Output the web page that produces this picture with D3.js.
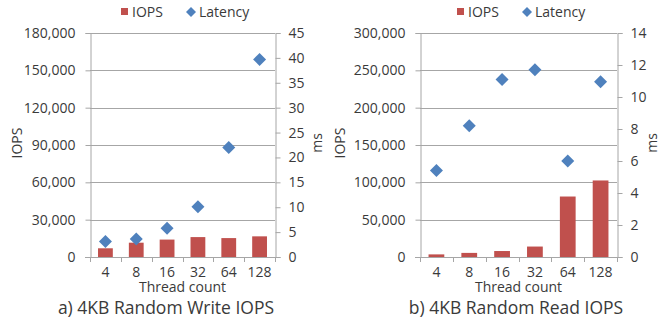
<!DOCTYPE html>
<html><head><meta charset="utf-8">
<script src="https://cdn.jsdelivr.net/npm/d3@7"></script>
<style>
body{margin:0;background:#fff;}
svg text{font-family:"Open Sans",sans-serif;fill:#3a3a3a;}
</style></head>
<body><svg id="c" width="660" height="321"></svg>
<script>
const threads = ["4","8","16","32","64","128"];
const writeIops = [7000, 11500, 14000, 16000, 15200, 16600];
const writeLatency = [3.1, 3.6, 5.8, 10.1, 22.0, 39.7];
const readIops = [3500, 5500, 8000, 14000, 81000, 102500];
const readLatency = [5.4, 8.2, 11.1, 11.7, 6.0, 10.95];
const writeLeftTicks = [0, 30000, 60000, 90000, 120000, 150000, 180000];
const writeRightTicks = [0, 5, 10, 15, 20, 25, 30, 35, 40, 45];
const readLeftTicks = [0, 50000, 100000, 150000, 200000, 250000, 300000];
const readRightTicks = [0, 2, 4, 6, 8, 10, 12, 14];

const svg = d3.select("#c");
const barColor = "#C0504D", dotColor = "#4F81BD", gridColor = "#a6a6a6";
const fmt = d3.format(",");

function panel(o){
  const g = svg.append("g");
  const x = d3.scaleBand().domain(threads).range([o.x0, o.x1]);
  const yL = d3.scaleLinear().domain([0, d3.max(o.leftTicks)]).range([o.y1, o.y0]);
  const yR = d3.scaleLinear().domain([0, d3.max(o.rightTicks)]).range([o.y1, o.y0]);
  // gridlines
  g.selectAll(".grid").data(o.leftTicks.slice(1)).join("line")
    .attr("x1", o.x0).attr("x2", o.x1)
    .attr("y1", d => Math.round(yL(d)) + 0.5).attr("y2", d => Math.round(yL(d)) + 0.5)
    .attr("stroke", gridColor).attr("stroke-width", 1);
  // left axis
  const la = g.append("g").attr("transform", `translate(${o.x0 + 0.5},0)`)
    .call(d3.axisLeft(yL).tickValues(o.leftTicks).tickFormat(fmt).tickSize(5).tickPadding(10));
  // right axis
  const ra = g.append("g").attr("transform", `translate(${o.x1 + 0.5},0)`)
    .call(d3.axisRight(yR).tickValues(o.rightTicks).tickSize(5).tickPadding(8));
  // bottom axis
  const ba = g.append("g").attr("transform", `translate(0,${Math.round(o.y1) + 0.5})`)
    .call(d3.axisBottom(x).tickSize(0).tickPadding(10));
  [la, ra, ba].forEach(a => {
    a.select(".domain").attr("stroke", gridColor);
    a.selectAll(".tick line").attr("stroke", gridColor);
    a.selectAll("text").attr("font-size", 14).attr("font-family", '"Open Sans",sans-serif').attr("fill", "#3a3a3a");
  });
  ba.select(".domain").attr("d", `M${o.x0 - 5},0H${o.x1}`);
  // category separator ticks
  const seps = threads.map(t => x(t)).concat([o.x1]);
  g.selectAll(".sep").data(seps).join("line")
    .attr("x1", d => Math.round(d) + 0.5).attr("x2", d => Math.round(d) + 0.5)
    .attr("y1", Math.round(o.y1)).attr("y2", Math.round(o.y1) + 5)
    .attr("stroke", gridColor);
  // bars
  const bw = x.bandwidth() * 0.48;
  g.selectAll(".bar").data(o.iops).join("rect")
    .attr("x", (d, i) => x(threads[i]) + x.bandwidth() / 2 - bw / 2)
    .attr("width", bw)
    .attr("y", d => yL(d)).attr("height", d => yL(0) - yL(d))
    .attr("fill", barColor);
  // diamonds
  const r = 6.5;
  g.selectAll(".dot").data(o.latency).join("path")
    .attr("transform", (d, i) => `translate(${x(threads[i]) + x.bandwidth() / 2},${yR(d)})`)
    .attr("d", `M0,${-r}L${r},0L0,${r}L${-r},0Z`)
    .attr("fill", dotColor);
  // axis titles
  g.append("text").attr("transform", `translate(${o.lt},143) rotate(-90)`)
    .attr("text-anchor", "middle").attr("font-size", 14).text("IOPS");
  g.append("text").attr("transform", `translate(${o.rt},143) rotate(-90)`)
    .attr("text-anchor", "middle").attr("font-size", 14).text("ms");
  g.append("text").attr("x", (o.x0 + o.x1) / 2).attr("y", 292)
    .attr("text-anchor", "middle").attr("font-size", 14).text("Thread count");
  g.append("text").attr("x", o.capX).attr("y", 314)
    .attr("text-anchor", "middle").attr("font-size", 17.5).text(o.caption);
  // legend
  const lg = g.append("g").attr("transform", `translate(${o.legX},0)`);
  lg.append("rect").attr("x", 0).attr("y", 8).attr("width", 7).attr("height", 7).attr("fill", barColor);
  lg.append("text").attr("x", 11).attr("y", 17).attr("font-size", 14).text("IOPS");
  lg.append("path").attr("transform", "translate(70,12)").attr("d", "M0,-5L5,0L0,5L-5,0Z").attr("fill", dotColor);
  lg.append("text").attr("x", 78).attr("y", 17).attr("font-size", 14).text("Latency");
}

panel({x0: 90, x1: 275, y0: 33, y1: 257, leftTicks: writeLeftTicks, rightTicks: writeRightTicks,
  iops: writeIops, latency: writeLatency, lt: 22, rt: 322, caption: "a) 4KB Random Write IOPS", capX: 166, legX: 121});
panel({x0: 420, x1: 617, y0: 33, y1: 257, leftTicks: readLeftTicks, rightTicks: readRightTicks,
  iops: readIops, latency: readLatency, lt: 345, rt: 657, caption: "b) 4KB Random Read IOPS", capX: 516, legX: 457});
</script></body></html>
